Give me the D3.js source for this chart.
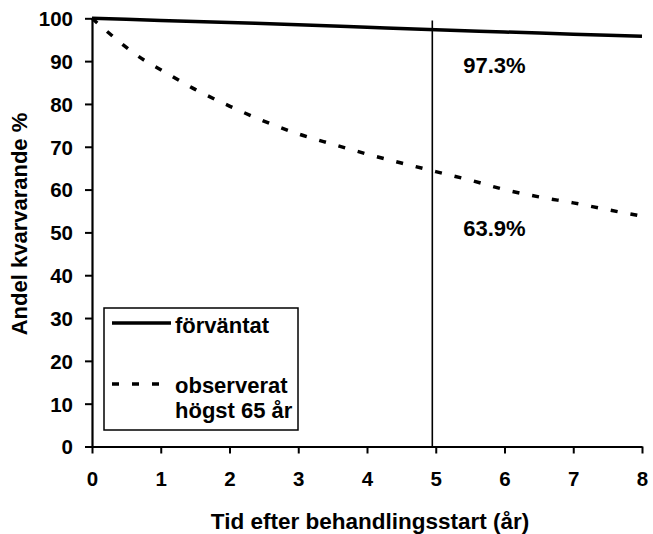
<!DOCTYPE html>
<html><head><meta charset="utf-8">
<script src="https://cdn.jsdelivr.net/npm/d3@7"></script>
<style>body{margin:0;background:#fff}svg{display:block}text{font-family:"Liberation Sans",Arial,sans-serif;font-weight:bold;fill:#000}</style>
</head><body>
<script>
const expectedYears = [0,1,2,3,4,5,6,7,8];
const expectedValues = [100,99.5,99.0,98.5,97.9,97.3,96.8,96.3,95.8];
const observedYears = [0,0.25,0.5,0.75,1,1.5,2,2.5,3,3.5,4,4.5,5,5.5,6,6.5,7,7.5,8];
const observedValues = [100,96.5,93.2,90.3,88,83.4,79.5,76,73,70.6,68.3,66.2,64.2,62.2,60,58.3,56.9,55.3,53.8];
const xTicks = [0,1,2,3,4,5,6,7,8];
const yTicks = [0,10,20,30,40,50,60,70,80,90,100];
const markerYear = 4.95;
const annotations = [{x:5.4, y:97.3, text:"97.3%"},{x:5.4, y:63.9, text:"63.9%"}];
const legendItems = ["förväntat", "observerat", "högst 65 år"];

const W=653,H=534;
const svg=d3.select("body").append("svg").attr("width",W).attr("height",H);
const x=d3.scaleLinear().domain([0,8]).range([92,642]);
const y=d3.scaleLinear().domain([0,100]).range([446.5,18.3]);

// axes
const yAxis=svg.append("g").attr("transform","translate(92,0)")
  .call(d3.axisLeft(y).tickValues(yTicks).tickSize(7).tickPadding(12).tickSizeOuter(0));
const xAxis=svg.append("g").attr("transform","translate(0,446.5)")
  .call(d3.axisBottom(x).tickValues(xTicks).tickSize(7).tickPadding(22).tickSizeOuter(0));
[yAxis,xAxis].forEach(g=>{
  g.select(".domain").attr("stroke","#000").attr("stroke-width",2.2);
  g.selectAll(".tick line").attr("stroke","#000").attr("stroke-width",2);
  g.selectAll(".tick text").style("font-size","20.5px").style("font-weight","bold").attr("fill","#000");
});
yAxis.selectAll(".tick text").attr("dy","0.36em");
xAxis.selectAll(".tick text").attr("dy","0.5em");

// vertical marker
svg.append("line").attr("x1",x(markerYear)).attr("x2",x(markerYear))
  .attr("y1",y(99.5)).attr("y2",y(0)).attr("stroke","#000").attr("stroke-width",1.6);

const line=d3.line().x(d=>x(d[0])).y(d=>y(d[1])).curve(d3.curveMonotoneX);
svg.append("path").datum(expectedYears.map((v,i)=>[v,expectedValues[i]]))
  .attr("d",line).attr("fill","none").attr("stroke","#000").attr("stroke-width",3.5);
svg.append("path").datum(observedYears.map((v,i)=>[v,observedValues[i]]))
  .attr("d",line).attr("fill","none").attr("stroke","#000").attr("stroke-width",3.5)
  .attr("stroke-dasharray","7,13");

// annotations
const annOffsets=[43,63];
annotations.forEach((a,i)=>{
  svg.append("text").attr("x",x(a.x)).attr("y",y(a.y)+annOffsets[i]).style("font-size","22px").text(a.text);
});

// titles
svg.append("text").attr("x",370).attr("y",529).attr("text-anchor","middle").style("font-size","22.5px").text("Tid efter behandlingsstart (år)");
svg.append("text").attr("transform","translate(27,224) rotate(-90)").attr("text-anchor","middle").style("font-size","22px").text("Andel kvarvarande %");

// legend
const lg=svg.append("g");
lg.append("rect").attr("x",104).attr("y",308).attr("width",194).attr("height",122).attr("fill","#fff").attr("stroke","#000").attr("stroke-width",1.5);
lg.append("line").attr("x1",112).attr("x2",171).attr("y1",323).attr("y2",323).attr("stroke","#000").attr("stroke-width",3.5);
lg.append("line").attr("x1",112).attr("x2",165).attr("y1",384).attr("y2",384).attr("stroke","#000").attr("stroke-width",3.5).attr("stroke-dasharray","7,13");
lg.append("text").attr("x",175).attr("y",333).style("font-size","22px").text(legendItems[0]);
lg.append("text").attr("x",175).attr("y",393).style("font-size","22px").text(legendItems[1]);
lg.append("text").attr("x",175).attr("y",418).style("font-size","22px").text(legendItems[2]);
</script>
</body></html>
